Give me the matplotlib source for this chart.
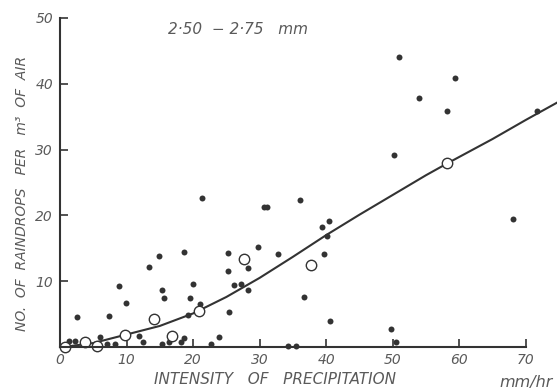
import matplotlib
matplotlib.use('Agg')
from matplotlib import pyplot as plt

# raindrop counts, 2.50-2.75 mm size class
obs_x = [1.3, 2.2, 2.6, 6.0, 7.0, 8.3, 7.4, 8.9, 9.9, 11.8, 12.5, 13.4, 14.9, 15.4, 15.6,
         15.3, 16.4, 18.6, 18.7, 18.2, 19.5, 20.0, 19.2, 21.1, 21.4, 22.7, 23.9, 25.2,
         25.3, 25.4, 26.1, 27.2, 28.2, 28.2, 29.7, 30.6, 31.1, 32.7, 34.2, 35.4, 36.0,
         36.6, 39.4, 40.5, 40.1, 39.7, 40.6, 49.8, 50.5, 50.2, 50.9, 53.9, 58.2, 59.4,
         68.1, 71.7]
obs_y = [0.9, 0.9, 4.5, 1.5, 0.5, 0.4, 4.7, 9.3, 6.7, 1.7, 0.7, 12.2, 13.9, 8.6, 7.5,
         0.4, 0.7, 14.4, 1.4, 0.7, 7.5, 9.5, 4.9, 6.6, 22.6, 0.5, 1.5, 14.3,
         11.6, 5.3, 9.4, 9.6, 12.0, 8.6, 15.2, 21.2, 21.2, 14.2, 0.2, 0.2, 22.3,
         7.6, 18.3, 19.1, 16.9, 14.1, 3.9, 2.8, 0.8, 29.2, 44.0, 37.9, 35.9, 40.9,
         19.5, 35.9]

# group means (open circles)
mean_x = [0.7, 3.7, 5.5, 9.7, 14.1, 16.9, 20.9, 27.7, 37.8, 58.2]
mean_y = [0.0, 0.7, 0.2, 1.8, 4.3, 1.7, 5.4, 13.3, 12.4, 27.9]

# hand-drawn fitted curve
curve_x = [0.5, 5, 10, 15, 20, 25, 30, 35, 40, 45, 50, 55, 58.2, 65, 70, 75]
curve_y = [0.0, 0.6, 1.9, 3.2, 5.1, 7.6, 10.5, 13.7, 17.0, 20.1, 23.1, 26.1, 27.9, 31.6, 34.5, 37.3]

xticks = [0, 10, 20, 30, 40, 50, 60, 70]
yticks = [10, 20, 30, 40, 50]

ink = '#333333'
txt = '#5a5a5a'

fig = plt.figure(figsize=(5.57, 3.92), dpi=100)
ax = fig.add_axes([60 / 557, 45 / 392, 497 / 557, 335.6 / 392])

ax.plot(curve_x, curve_y, color=ink, lw=1.5, clip_on=True)
ax.plot(obs_x, obs_y, 'o', color=ink, ms=4.3, mec='none', clip_on=False)
ax.plot(mean_x, mean_y, 'o', mfc='white', mec=ink, ms=7.5, mew=1.0, clip_on=False)

ax.set_xlim(0, 74.7)
ax.set_ylim(0, 51)
for s in ['top', 'right']:
    ax.spines[s].set_visible(False)
ax.spines['left'].set_bounds(0, 50)
ax.spines['bottom'].set_bounds(0, 70)
for s in ['left', 'bottom']:
    ax.spines[s].set_color(ink)
    ax.spines[s].set_linewidth(1.5)

ax.set_xticks(xticks)
ax.set_yticks(yticks)
ax.tick_params(direction='in', colors=ink, width=1.2, length=6, labelcolor=txt, labelsize=10)
ax.tick_params(axis='y', pad=5)
ax.tick_params(axis='x', pad=4)
for lab in ax.get_xticklabels() + ax.get_yticklabels():
    lab.set_fontstyle('italic')

ax.text(26.8, 48.3, '2\u00b750  \u2212 2\u00b775   mm', color=txt, fontsize=11, style='italic',
        ha='center', va='center')

fig.text(22 / 557, 1 - 193 / 392, 'NO.  OF  RAINDROPS   PER   m\u00b3  OF  AIR', rotation=90,
         color=txt, fontsize=10, style='italic', ha='center', va='center')
fig.text(275 / 557, 1 - 380 / 392, 'INTENSITY   OF   PRECIPITATION', color=txt,
         fontsize=11, style='italic', ha='center', va='center')
fig.text(526 / 557, 1 - 382 / 392, 'mm/hr', color=txt, fontsize=11.5, style='italic',
         ha='center', va='center')

fig.savefig('out.png', dpi=100)
